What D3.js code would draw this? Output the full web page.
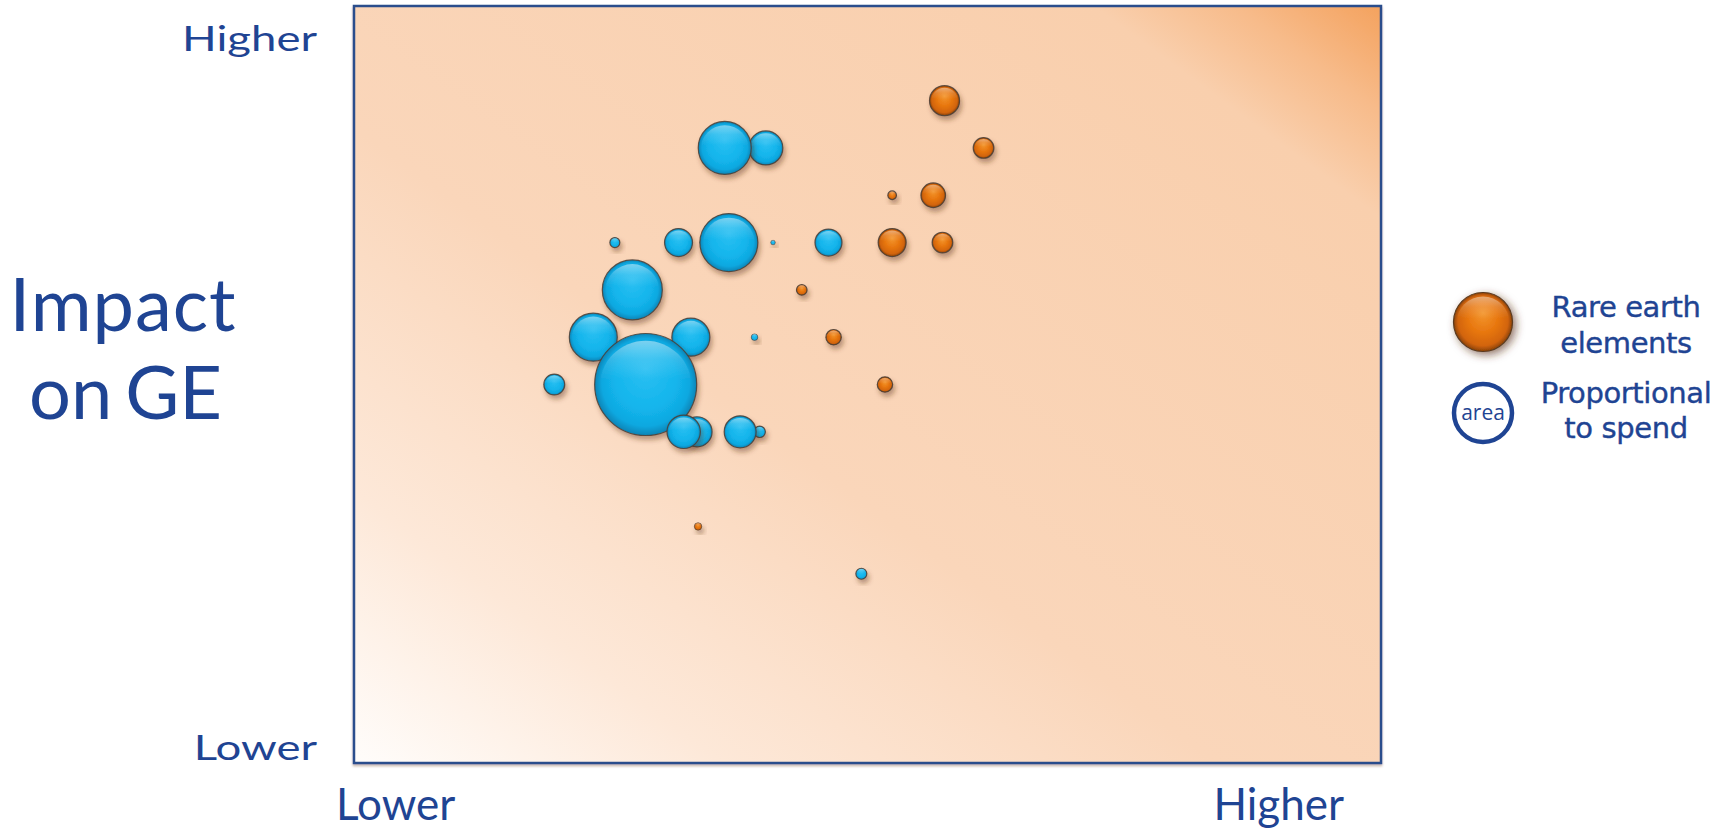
<!DOCTYPE html>
<html><head><meta charset="utf-8">
<script src="https://cdn.jsdelivr.net/npm/d3@7"></script>
<style>body{margin:0;background:#fff}svg{display:block}</style>
</head><body><svg id="c" width="1733" height="829"></svg>
<script>
// ---- data (x: 0-100 "Lower"->"Higher", y: 0-16 impact on GE, spend: relative) ----
const otherX = [19.5, 23.3, 25.4, 27.1, 28.4, 31.6, 32.1, 33.4, 32.8, 34.4, 36.1, 36.5, 37.6, 39.0, 39.5, 40.1, 40.8, 46.2, 49.4];
const otherY = [8, 9, 11, 10, 8, 11, 7, 7, 9, 11, 13, 11, 7, 9, 7, 13, 11, 11, 4];
const otherSpend = [4.2, 22.1, 0.96, 34.6, 100, 7.5, 10.7, 8.7, 13.9, 1.9, 27, 32.3, 9.8, 0.42, 1.25, 11.1, 0.2, 7.0, 1.16];
const rareX = [33.5, 43.6, 46.7, 51.7, 52.4, 52.4, 56.4, 57.3, 57.5, 61.3];
const rareY = [5, 10, 9, 8, 12, 11, 12, 11, 14, 13];
const rareSpend = [0.53, 1.08, 2.28, 2.28, 0.71, 7.5, 5.8, 4.1, 8.65, 4.1];
const xTickValues = [4, 90];
const yTickValues = [0.4, 15.4];
const tickLabels = ["Lower", "Higher"];
const yTitle = ["Impact", "on GE"];
const legendRare = ["Rare earth", "elements"];
const legendArea = ["Proportional", "to spend"];

const svg = d3.select("#c");
const plot = {l: 354, r: 1381, t: 6, b: 763};
const x = d3.scaleLinear().domain([0, 100]).range([plot.l, plot.r]);
const y = d3.scaleLinear().domain([0, 16]).range([plot.b, plot.t]);
const rS = d3.scaleSqrt().domain([0, 100]).range([0, 51]);
const navy = "#1f4493";

const defs = svg.append("defs");
// background gradient
const bg = defs.append("linearGradient").attr("id", "bg")
  .attr("x1", 0).attr("y1", 1).attr("x2", 1).attr("y2", 0);
[[0, "#fffdfb"], [0.18, "#fde8d8"], [0.42, "#fad6ba"], [0.86, "#f9cfad"], [0.93, "#f7bb8a"], [1, "#f4a25e"]]
  .forEach(([o, c]) => bg.append("stop").attr("offset", o).attr("stop-color", c));

function radial(id, stops) {
  const g = defs.append("radialGradient").attr("id", id)
    .attr("cx", "50%").attr("cy", "50%").attr("r", "50%").attr("fx", "50%").attr("fy", "35%");
  stops.forEach(([o, c]) => g.append("stop").attr("offset", o).attr("stop-color", c));
}
radial("gBlue", [[0, "#2cc0f2"], [0.6, "#13b5ec"], [0.86, "#0fa8e0"], [1, "#0a84b6"]]);
radial("gOrange", [[0, "#f3962e"], [0.5, "#e8770f"], [0.85, "#d26408"], [1, "#8a4206"]]);
const hl = defs.append("linearGradient").attr("id", "hl").attr("x1", 0).attr("y1", 0).attr("x2", 0).attr("y2", 1);
[[0, 0.45], [0.2, 0.15], [0.42, 0]].forEach(([o, a]) =>
  hl.append("stop").attr("offset", o).attr("stop-color", "#fff").attr("stop-opacity", a));

function shadow(id, sd, dx, dy, op) {
  const f = defs.append("filter").attr("id", id)
    .attr("x", "-60%").attr("y", "-60%").attr("width", "220%").attr("height", "220%");
  f.append("feGaussianBlur").attr("in", "SourceAlpha").attr("stdDeviation", sd);
  f.append("feOffset").attr("dx", dx).attr("dy", dy).attr("result", "o");
  f.append("feFlood").attr("flood-color", "#5a3018").attr("flood-opacity", op);
  f.append("feComposite").attr("in2", "o").attr("operator", "in");
  const m = f.append("feMerge");
  m.append("feMergeNode");
  m.append("feMergeNode").attr("in", "SourceGraphic");
}
shadow("sh", 2.5, 1.5, 4, 0.42);
shadow("shL", 4, 3, 3, 0.65);
shadow("shF", 1, 0, 2, 0.35);

// plot frame
svg.append("rect").attr("x", plot.l).attr("y", plot.t)
  .attr("width", plot.r - plot.l).attr("height", plot.b - plot.t)
  .attr("fill", "url(#bg)").attr("stroke", "#2a4d8c").attr("stroke-width", 2.5)
  .attr("filter", "url(#shF)");

// bubbles
const data = [];
otherX.forEach((v, i) => data.push({x: v, y: otherY[i], s: otherSpend[i], grad: "gBlue"}));
rareX.forEach((v, i) => data.push({x: v, y: rareY[i], s: rareSpend[i], grad: "gOrange"}));
data.sort((a, b) => (b.y - a.y) || (a.s - b.s));

const bub = svg.append("g").selectAll("g").data(data).join("g")
  .attr("transform", d => `translate(${x(d.x)},${y(d.y)})`)
  .attr("filter", "url(#sh)");
bub.append("circle").attr("r", d => rS(d.s))
  .attr("fill", d => `url(#${d.grad})`)
  .attr("stroke", "#4a3e36").attr("stroke-opacity", 0.85)
  .attr("stroke-width", d => rS(d.s) < 4 ? 0.6 : 1.2);
bub.append("circle").attr("cy", d => rS(d.s) * 0.04).attr("r", d => rS(d.s) * 0.9)
  .attr("fill", "url(#hl)");

// axes
const fontAxis = "Lato, 'Open Sans', sans-serif";
const xAxis = svg.append("g").attr("transform", `translate(0,${plot.b})`)
  .call(d3.axisBottom(x).tickValues(xTickValues).tickFormat((d, i) => tickLabels[i]).tickSize(0).tickPadding(25.5));
xAxis.select(".domain").remove();
xAxis.selectAll("text").attr("font-family", fontAxis).attr("font-size", 44).attr("fill", navy);

const yAxis = svg.append("g").attr("transform", `translate(${plot.l},0)`)
  .call(d3.axisLeft(y).tickValues(yTickValues).tickFormat((d, i) => tickLabels[i]).tickSize(0).tickPadding(28.5));
yAxis.select(".domain").remove();
yAxis.selectAll("text").attr("font-family", fontAxis).attr("font-size", 35).attr("fill", navy)
  .attr("dy", "0.45em").attr("transform", "scale(1.3,1)");

// y title
svg.append("g").selectAll("text").data(yTitle).join("text")
  .attr("x", (d, i) => i === 0 ? 9.5 : 29).attr("y", (d, i) => i === 0 ? 331 : 419)
  .attr("font-family", fontAxis).attr("font-size", 74).attr("fill", navy)
  .attr("letter-spacing", (d, i) => i === 0 ? 1 : 0)
  .attr("word-spacing", (d, i) => i === 0 ? 0 : -6)
  .text(d => d);

// legend
const lg = svg.append("g");
lg.append("g").attr("transform", "translate(1483,322)").attr("filter", "url(#shL)")
  .call(g => {
    g.append("circle").attr("r", 29.5).attr("fill", "url(#gOrange)").attr("stroke", "#5a3a20").attr("stroke-width", 1.2);
    g.append("circle").attr("r", 26.5).attr("cy", 1).attr("fill", "url(#hl)");
  });
lg.append("circle").attr("cx", 1483).attr("cy", 413).attr("r", 29)
  .attr("fill", "#fff").attr("stroke", navy).attr("stroke-width", 4.5);
lg.append("text").attr("x", 1483).attr("y", 413).attr("dy", "0.33em").attr("text-anchor", "middle")
  .attr("font-family", "'Open Sans', sans-serif").attr("font-size", 21).attr("fill", navy).text("area");
const legFont = "'DejaVu Sans', sans-serif";
lg.selectAll("text.l1").data(legendRare).join("text").attr("class", "l1")
  .attr("x", 1626).attr("y", (d, i) => [317, 353][i]).attr("text-anchor", "middle")
  .attr("font-family", legFont).attr("font-size", 29).attr("letter-spacing", -0.4)
  .attr("stroke", navy).attr("stroke-width", 0.4)
  .attr("fill", navy).text(d => d);
lg.selectAll("text.l2").data(legendArea).join("text").attr("class", "l2")
  .attr("x", 1626).attr("y", (d, i) => [403, 438][i]).attr("text-anchor", "middle")
  .attr("font-family", legFont).attr("font-size", 29).attr("letter-spacing", -0.4)
  .attr("stroke", navy).attr("stroke-width", 0.4)
  .attr("fill", navy).text(d => d);
</script></body></html>
